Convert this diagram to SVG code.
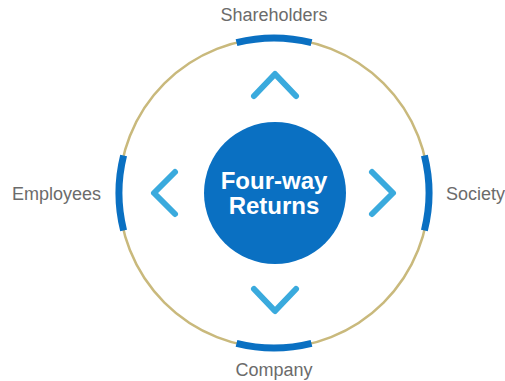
<svg xmlns="http://www.w3.org/2000/svg" width="505" height="381" viewBox="0 0 505 381">
<style>
.lbl{font-family:"Liberation Sans",Arial,sans-serif;font-size:18px;fill:#6b6b6b}
.ctr{font-family:"Liberation Sans",Arial,sans-serif;font-size:24px;font-weight:bold;fill:#ffffff}
.arc{fill:none;stroke:#0a70c2;stroke-width:7}
.chev{fill:none;stroke:#3aaadd;stroke-width:6;stroke-linecap:round;stroke-linejoin:round}
</style>
<rect width="505" height="381" fill="#ffffff"/>
<g id="ring">
<circle cx="274" cy="193" r="155" fill="none" stroke="#c9b97c" stroke-width="2.5"/>
</g>
<g id="connectors">
<path class="chev" d="M254,96 L275,74 L296,96"/>
<path class="chev" d="M254,289 L275,311 L296,289"/>
<path class="chev" d="M175,172 L154,193 L175,214"/>
<path class="chev" d="M372,172 L393,193 L372,214"/>
</g>
<g id="center">
<circle cx="275" cy="193" r="71" fill="#0a70c2"/>
<text class="ctr" x="274" y="189" text-anchor="middle">Four-way</text>
<text class="ctr" x="274" y="214" text-anchor="middle">Returns</text>
</g>
<g id="shareholders">
<path class="arc" d="M236.5,42.6 A155,155 0 0 1 311.5,42.6"/>
<text class="lbl" x="274" y="21" text-anchor="middle">Shareholders</text>
</g>
<g id="company">
<path class="arc" d="M236.5,343.4 A155,155 0 0 0 311.5,343.4"/>
<text class="lbl" x="274" y="376" text-anchor="middle">Company</text>
</g>
<g id="employees">
<path class="arc" d="M123.6,155.5 A155,155 0 0 0 123.6,230.5"/>
<text class="lbl" x="101" y="200" text-anchor="end">Employees</text>
</g>
<g id="society">
<path class="arc" d="M424.4,155.5 A155,155 0 0 1 424.4,230.5"/>
<text class="lbl" x="446" y="200">Society</text>
</g>
</svg>
